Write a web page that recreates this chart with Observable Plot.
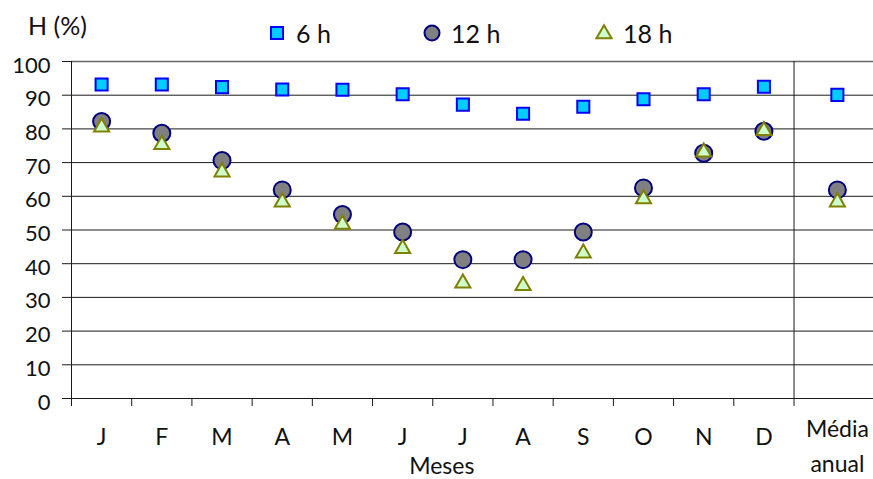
<!DOCTYPE html>
<html>
<head>
<meta charset="utf-8">
<script src="https://cdn.jsdelivr.net/npm/d3@7"></script>
<script src="https://cdn.jsdelivr.net/npm/@observablehq/plot@0.6"></script>
<style>
  html, body { margin: 0; padding: 0; background: white; }
  #wrap { position: relative; width: 873px; height: 479px; font-family: Lato, "Open Sans", sans-serif; color: #111; }
  #title { position: absolute; left: 28px; top: 10px; font-size: 25px; }
  .leg { position: absolute; top: 18px; height: 30px; display: flex; align-items: center; font-size: 25px; }
  .leg svg { margin-right: 8px; }
  #chart { position: absolute; left: 0; top: 0; }
</style>
</head>
<body>
<div id="wrap">
  <div id="chart"></div>
  <div id="title">H (%)</div>
  <div id="legend"></div>
</div>
<script>
// ---- data ----
const months = ["J", "F", "M", "A", "M", "J", "J", "A", "S", "O", "N", "D"];
const annualLabel = "Média\nanual";
const seriesNames = ["6 h", "12 h", "18 h"];
const h6  = [93.2, 93.2, 92.4, 91.7, 91.6, 90.3, 87.2, 84.5, 86.6, 88.8, 90.3, 92.5];
const h12 = [82.2, 78.7, 70.6, 61.9, 54.6, 49.4, 41.2, 41.2, 49.4, 62.5, 72.8, 79.3];
const h18 = [80.5, 75.3, 67.2, 58.3, 51.7, 44.5, 34.2, 33.5, 43.1, 59.2, 73.1, 79.5];
const annual6 = 90.1, annual12 = 61.9, annual18 = 58.3;
const yTicks = [0, 10, 20, 30, 40, 50, 60, 70, 80, 90, 100];

// ---- build table ----
const annualSlot = 12.72; // annual column sits in the wider last section
const cats = months.map((m, i) => ({label: m, slot: i + 0.5}));
cats.push({label: annualLabel, slot: annualSlot});
const v6 = [...h6, annual6], v12 = [...h12, annual12], v18 = [...h18, annual18];
const rows = cats.map((c, i) => ({...c, h6: v6[i], h12: v12[i], h18: v18[i]}));

const styles = {
  "6 h":  {symbol: "square",   r: 6.8, fill: "#00ccff", stroke: "#0000ff"},
  "12 h": {symbol: "circle",   r: 8.5, fill: "#808080", stroke: "#000080"},
  "18 h": {symbol: "triangle", r: 5.6, fill: "#ccffcc", stroke: "#808000"}
};

const grid = "#1a1a1a";
const chart = Plot.plot({
  width: 873,
  height: 479,
  marginLeft: 71,
  marginRight: 0,
  marginTop: 61,
  marginBottom: 81,
  x: {domain: [0, 13.32], axis: null},
  y: {domain: [0, 100], axis: null},
  style: {fontFamily: "Lato, 'Open Sans', sans-serif", background: "white", color: "#111", overflow: "visible"},
  marks: [
    Plot.gridY(yTicks, {stroke: grid, strokeOpacity: 1, strokeWidth: 1}),
    Plot.gridY([100], {stroke: "#666", strokeOpacity: 1, strokeWidth: 1.6}),
    Plot.axisY({ticks: yTicks, tickSize: 9, fill: "none", stroke: grid, label: null}),
    Plot.axisY({ticks: yTicks, tickSize: 0, tickPadding: 21, dy: 4, stroke: "none", fontSize: 22, label: null, fill: "#111"}),
    Plot.axisX({ticks: d3.range(0, 13), tickSize: 8, fill: "none", stroke: grid, label: null}),
    Plot.ruleX([0], {stroke: grid}),
    Plot.ruleX([12], {stroke: grid}),
    Plot.dot(rows, {x: "slot", y: "h6", ...styles["6 h"], strokeWidth: 2}),
    Plot.dot(rows, {x: "slot", y: "h12", ...styles["12 h"], strokeWidth: 2}),
    Plot.dot(rows, {x: "slot", y: "h18", ...styles["18 h"], strokeWidth: 2}),
    Plot.text(rows.slice(0, 12), {x: "slot", text: "label", frameAnchor: "bottom", dy: 39, fontSize: 23, lineAnchor: "middle", fill: "#111"}),
    Plot.text(rows.slice(12), {x: "slot", text: "label", frameAnchor: "bottom", dy: 45, fontSize: 23, lineAnchor: "middle", lineHeight: 1.5, fill: "#111"}),
    Plot.text(["Meses"], {x: 6, dx: 9, frameAnchor: "bottom", dy: 68, fontSize: 23, lineAnchor: "middle", fill: "#111"})
  ]
});
document.getElementById("chart").appendChild(chart);

// ---- legend ----
const legendLeft = {"6 h": 266, "12 h": 421, "18 h": 593};
const legend = document.getElementById("legend");
seriesNames.forEach(name => {
  const s = styles[name];
  const item = document.createElement("div");
  item.className = "leg";
  item.style.left = legendLeft[name] + "px";
  const sz = 22;
  const svg = d3.create("svg").attr("width", sz).attr("height", sz);
  const area = Math.PI * s.r * s.r;
  const sym = {square: d3.symbolSquare, circle: d3.symbolCircle, triangle: d3.symbolTriangle}[s.symbol];
  svg.append("path")
    .attr("transform", `translate(${sz / 2},${sz / 2 + (s.symbol === "triangle" ? 1 : 0)})`)
    .attr("d", d3.symbol(sym, s.symbol === "circle" ? Math.PI * 7.5 * 7.5 : area)())
    .attr("fill", s.fill).attr("stroke", s.stroke).attr("stroke-width", 2);
  item.appendChild(svg.node());
  const t = document.createElement("span");
  t.textContent = name;
  item.appendChild(t);
  legend.appendChild(item);
});
</script>
</body>
</html>
